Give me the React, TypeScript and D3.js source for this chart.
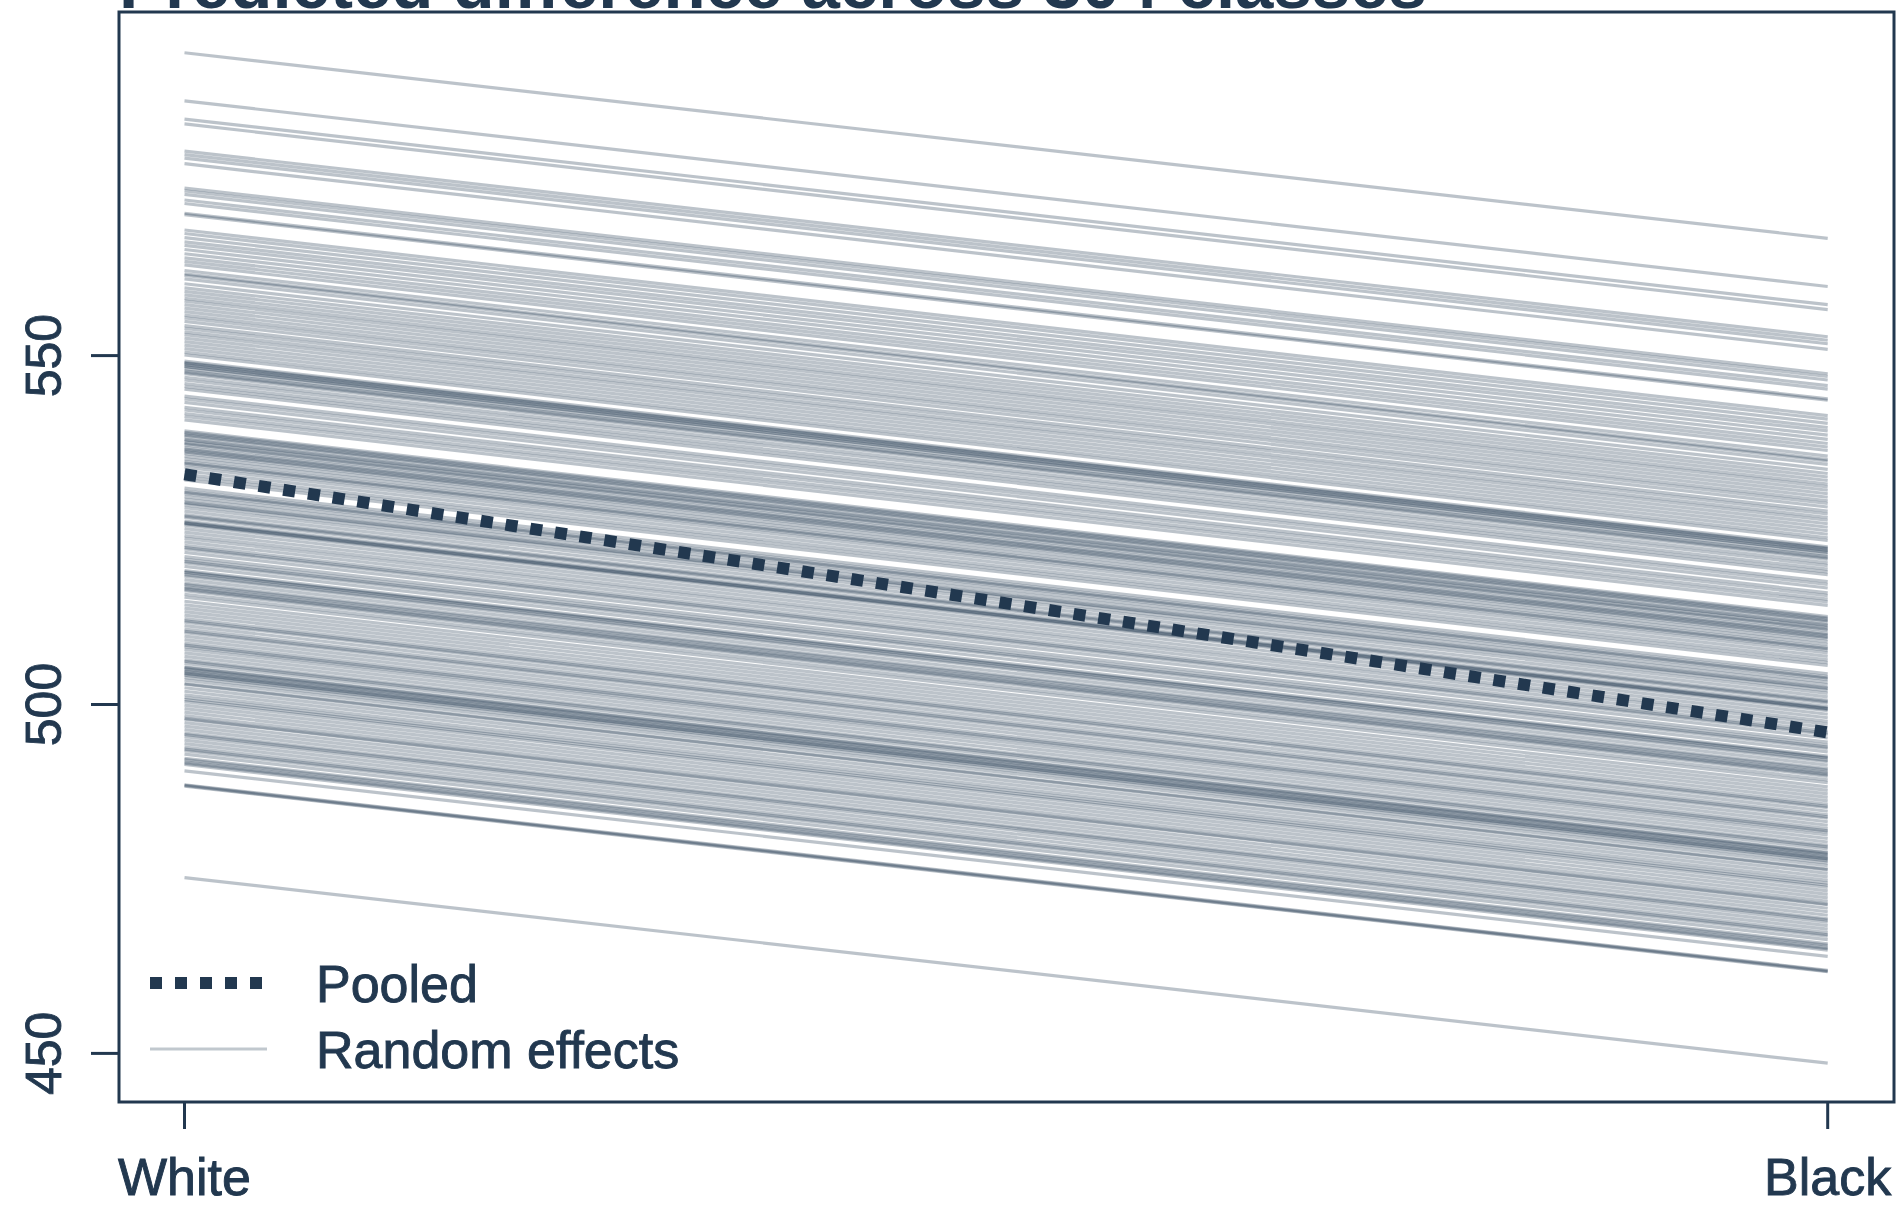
import React from 'react';
import * as d3 from 'd3';

// predicted score per class
const groups = ['White', 'Black'];

const whiteScores = [
  593.4, 586.5, 583.9, 583.2, 579.3, 578.8, 578.3, 577.5, 574.0, 573.6,
  573.1, 572.3, 571.8, 570.4, 570.2, 568.0, 567.5, 566.9, 566.3, 565.8,
  565.2, 564.6, 564.0, 563.5, 563.0, 562.2, 561.7, 561.5, 561.0, 560.3,
  559.7, 559.2, 558.7, 558.2, 557.8, 557.3, 556.8, 556.3, 555.8, 555.4,
  554.9, 554.3, 553.9, 553.4, 553.0, 552.5, 552.0, 551.5, 551.0, 550.5,
  550.1, 549.0, 548.7, 548.4, 548.1, 547.8, 547.4, 546.9, 546.5, 546.0,
  545.6, 545.2, 544.2, 543.8, 543.3, 542.6, 542.2, 541.7, 541.3, 540.8,
  539.2, 538.8, 538.4, 538.0, 537.6, 537.2, 536.8, 536.4, 536.0, 535.6,
  535.2, 534.8, 534.4, 534.0, 533.5, 533.0, 532.6, 532.2, 531.0, 530.6,
  530.2, 529.8, 529.4, 529.0, 528.6, 528.2, 527.7, 527.2, 526.8, 526.3,
  526.1, 525.9, 525.2, 524.7, 524.2, 523.8, 523.3, 522.8, 522.3, 521.8,
  521.2, 520.8, 520.3, 519.8, 519.2, 518.9, 518.4, 517.9, 517.4, 516.9,
  516.5, 516.3, 515.8, 515.4, 514.8, 514.3, 513.8, 513.3, 512.8, 512.3,
  511.8, 511.3, 510.8, 510.3, 509.8, 509.3, 508.8, 508.3, 507.9, 507.4,
  506.9, 506.4, 505.9, 505.4, 505.1, 504.7, 504.4, 504.2, 503.9, 503.5,
  502.9, 502.4, 501.9, 501.4, 501.0, 500.4, 499.9, 499.4, 498.9, 498.4,
  497.9, 497.4, 496.9, 496.4, 495.9, 495.4, 494.9, 494.4, 493.9, 493.4,
  492.9, 492.3, 491.8, 491.6, 490.5, 488.5, 488.3, 475.2,
  549.2, 548.9, 548.5, 547.6, 539.0, 538.6, 537.9, 537.4, 536.6, 526.0,
  525.7, 519.0, 518.6, 517.2, 505.3, 504.9, 504.5, 492.1, 491.4, 488.4,
  536.2, 534.6, 530.4, 528.9, 527.0, 522.5, 520.5, 516.7, 512.0, 510.5,
  508.5, 506.2, 503.0, 500.7, 498.0, 495.7, 493.6,
];

const blackScores = [
  566.8, 559.9, 557.3, 556.6, 552.7, 552.2, 551.7, 550.9, 547.4, 547.0,
  546.5, 545.7, 545.2, 543.8, 543.6, 541.4, 540.9, 540.3, 539.7, 539.2,
  538.6, 538.0, 537.4, 536.9, 536.4, 535.6, 535.1, 534.9, 534.4, 533.7,
  533.1, 532.6, 532.1, 531.6, 531.2, 530.7, 530.2, 529.7, 529.2, 528.8,
  528.3, 527.7, 527.3, 526.8, 526.4, 525.9, 525.4, 524.9, 524.4, 523.9,
  523.5, 522.4, 522.1, 521.8, 521.5, 521.2, 520.8, 520.3, 519.9, 519.4,
  519.0, 518.6, 517.6, 517.2, 516.7, 516.0, 515.6, 515.1, 514.7, 514.2,
  512.6, 512.2, 511.8, 511.4, 511.0, 510.6, 510.2, 509.8, 509.4, 509.0,
  508.6, 508.2, 507.8, 507.4, 506.9, 506.4, 506.0, 505.6, 504.4, 504.0,
  503.6, 503.2, 502.8, 502.4, 502.0, 501.6, 501.1, 500.6, 500.2, 499.7,
  499.5, 499.3, 498.6, 498.1, 497.6, 497.2, 496.7, 496.2, 495.7, 495.2,
  494.6, 494.2, 493.7, 493.2, 492.6, 492.3, 491.8, 491.3, 490.8, 490.3,
  489.9, 489.7, 489.2, 488.8, 488.2, 487.7, 487.2, 486.7, 486.2, 485.7,
  485.2, 484.7, 484.2, 483.7, 483.2, 482.7, 482.2, 481.7, 481.3, 480.8,
  480.3, 479.8, 479.3, 478.8, 478.5, 478.1, 477.8, 477.6, 477.3, 476.9,
  476.3, 475.8, 475.3, 474.8, 474.4, 473.8, 473.3, 472.8, 472.3, 471.8,
  471.3, 470.8, 470.3, 469.8, 469.3, 468.8, 468.3, 467.8, 467.3, 466.8,
  466.3, 465.7, 465.2, 465.0, 463.9, 461.9, 461.7, 448.6,
  522.6, 522.3, 521.9, 521.0, 512.4, 512.0, 511.3, 510.8, 510.0, 499.4,
  499.1, 492.4, 492.0, 490.6, 478.7, 478.3, 477.9, 465.5, 464.8, 461.8,
  509.6, 508.0, 503.8, 502.3, 500.4, 495.9, 493.9, 490.1, 485.4, 483.9,
  481.9, 479.6, 476.4, 474.1, 471.4, 469.1, 467.0,
];

const pooledScores = [533.0, 496.0];
const yTicks = [450, 500, 550];
const legendLabels = ['Pooled', 'Random effects'];
const title = 'Predicted difference across 304 classes';

const ink = '#22384f';
const font = '"Liberation Sans", Arial, Helvetica, sans-serif';

export default function App() {
  const W = 1903;
  const H = 1205;
  const frame = { left: 119, right: 1894, top: 12, bottom: 1102 };

  const x = d3.scalePoint<string>().domain(groups).range([184.5, 1827.7]);
  const y = d3.scaleLinear().domain([450, 550]).range([1053.4, 355.6]);

  const line = d3
    .line<[string, number]>()
    .x((d) => x(d[0])!)
    .y((d) => y(d[1]));

  const classLines = whiteScores.map((w, i) =>
    line([
      [groups[0], w],
      [groups[1], blackScores[i]],
    ])
  );

  const pooledPath = line(groups.map((g, i) => [g, pooledScores[i]] as [string, number]));

  // slight outline so the labels read as heavy as the original
  const textStroke = { stroke: ink, strokeWidth: 0.9 };

  return (
    <svg
      width={W}
      height={H}
      style={{ position: 'absolute', left: 0, top: 0, background: '#fff' }}
      fontFamily={font}
    >
      {/* title, mostly pushed off the top edge */}
      <text x={frame.left} y={8} fontSize={69} fontWeight="bold" fill={ink}>
        {title}
      </text>

      {/* random effects */}
      <g fill="none" stroke={ink} strokeOpacity={0.3} strokeWidth={3.2}>
        {classLines.map((d, i) => (
          <path key={i} d={d!} />
        ))}
      </g>

      {/* pooled */}
      <path
        d={pooledPath!}
        fill="none"
        stroke={ink}
        strokeWidth={12}
        strokeDasharray="12 13"
      />

      {/* frame */}
      <rect
        x={frame.left}
        y={frame.top}
        width={frame.right - frame.left}
        height={frame.bottom - frame.top}
        fill="none"
        stroke={ink}
        strokeWidth={3}
      />

      {/* y axis */}
      {yTicks.map((t) => (
        <g key={t}>
          <line x1={frame.left - 28} x2={frame.left} y1={y(t)} y2={y(t)} stroke={ink} strokeWidth={3} />
          <text
            transform={`translate(61,${y(t)}) rotate(-90)`}
            textAnchor="middle"
            fontSize={50}
            fill={ink}
            {...textStroke}
          >
            {t}
          </text>
        </g>
      ))}

      {/* x axis */}
      {groups.map((g) => (
        <g key={g}>
          <line x1={x(g)!} x2={x(g)!} y1={frame.bottom} y2={frame.bottom + 27} stroke={ink} strokeWidth={3} />
          <text x={x(g)!} y={1195} textAnchor="middle" fontSize={52} fill={ink} {...textStroke}>
            {g}
          </text>
        </g>
      ))}

      {/* legend */}
      <g>
        <line x1={150} x2={267} y1={983} y2={983} stroke={ink} strokeWidth={12} strokeDasharray="12 13" />
        <line x1={150} x2={267} y1={1049} y2={1049} stroke={ink} strokeOpacity={0.28} strokeWidth={3.2} />
        {legendLabels.map((l, i) => (
          <text key={l} x={316} y={983 + i * 66 + 19} fontSize={52} fill={ink} {...textStroke}>
            {l}
          </text>
        ))}
      </g>
    </svg>
  );
}
